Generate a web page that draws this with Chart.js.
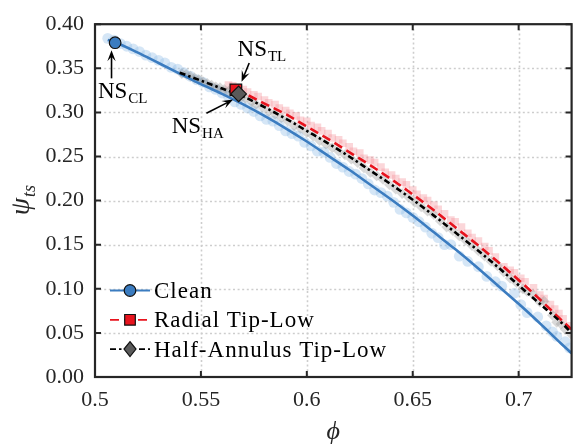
<!DOCTYPE html>
<html>
<head>
<meta charset="utf-8">
<script src="https://cdn.jsdelivr.net/npm/chart.js@4.4.1/dist/chart.umd.min.js"></script>
<style>
  html, body { margin: 0; padding: 0; background: #ffffff; }
  #wrap { width: 581px; height: 446px; }
</style>
</head>
<body>
<div id="wrap"><canvas id="c" width="581" height="446"></canvas></div>
<script>
// ---- data ----
const xTicks = [0.5, 0.55, 0.6, 0.65, 0.7];
const xTickLabels = ['0.5', '0.55', '0.6', '0.65', '0.7'];
const yTicks = [0, 0.05, 0.1, 0.15, 0.2, 0.25, 0.3, 0.35, 0.4];
const yTickLabels = ['0.00', '0.05', '0.10', '0.15', '0.20', '0.25', '0.30', '0.35', '0.40'];

const seriesNames = ['Clean', 'Radial Tip-Low', 'Half-Annulus Tip-Low'];

// fitted characteristics
const cleanPhi = [0.506, 0.51, 0.52, 0.53, 0.54, 0.55, 0.56, 0.57, 0.58, 0.59, 0.60, 0.61, 0.62, 0.63, 0.64, 0.65, 0.66, 0.67, 0.68, 0.69, 0.70, 0.71, 0.72, 0.725];
const cleanPsi = [0.382, 0.379, 0.368, 0.356, 0.344, 0.332, 0.321, 0.309, 0.296, 0.282, 0.267, 0.251, 0.235, 0.218, 0.201, 0.183, 0.164, 0.145, 0.125, 0.104, 0.083, 0.061, 0.038, 0.027];

const radialPhi = [0.5665, 0.57, 0.58, 0.59, 0.60, 0.61, 0.62, 0.63, 0.64, 0.65, 0.66, 0.67, 0.68, 0.69, 0.70, 0.71, 0.72, 0.725];
const radialPsi = [0.3255, 0.322, 0.310, 0.298, 0.284, 0.270, 0.255, 0.240, 0.224, 0.207, 0.189, 0.170, 0.151, 0.131, 0.110, 0.088, 0.065, 0.054];

const halfPhi = [0.54, 0.55, 0.56, 0.57, 0.58, 0.59, 0.60, 0.61, 0.62, 0.63, 0.64, 0.65, 0.66, 0.67, 0.68, 0.69, 0.70, 0.71, 0.72, 0.725];
const halfPsi = [0.345, 0.336, 0.327, 0.318, 0.306, 0.293, 0.279, 0.265, 0.250, 0.234, 0.218, 0.201, 0.183, 0.164, 0.145, 0.125, 0.104, 0.083, 0.062, 0.050];

// raw measurement samples
const cleanRawPhi = [0.506, 0.509, 0.512, 0.515, 0.518, 0.521, 0.524, 0.527, 0.530, 0.533, 0.536, 0.539, 0.542, 0.545, 0.548, 0.551, 0.554, 0.557, 0.560, 0.563, 0.566, 0.569, 0.572, 0.575, 0.578, 0.581, 0.584, 0.587, 0.590, 0.593, 0.596, 0.599, 0.602, 0.605, 0.608, 0.611, 0.614, 0.617, 0.620, 0.623, 0.626, 0.629, 0.632, 0.635, 0.638, 0.641, 0.644, 0.647, 0.650, 0.653, 0.656, 0.659, 0.662, 0.665, 0.668, 0.672, 0.676, 0.681, 0.685, 0.689, 0.692, 0.698, 0.701, 0.704, 0.709, 0.713, 0.716, 0.718, 0.722, 0.724];
const cleanRawPsi = [0.384, 0.382, 0.378, 0.375, 0.372, 0.369, 0.365, 0.362, 0.359, 0.356, 0.351, 0.349, 0.345, 0.341, 0.337, 0.334, 0.329, 0.326, 0.322, 0.318, 0.312, 0.309, 0.305, 0.301, 0.296, 0.292, 0.290, 0.285, 0.279, 0.276, 0.273, 0.266, 0.262, 0.256, 0.255, 0.249, 0.242, 0.238, 0.233, 0.230, 0.225, 0.219, 0.212, 0.209, 0.205, 0.198, 0.190, 0.186, 0.181, 0.176, 0.170, 0.163, 0.158, 0.150, 0.150, 0.137, 0.131, 0.125, 0.114, 0.108, 0.103, 0.095, 0.082, 0.073, 0.068, 0.058, 0.051, 0.046, 0.040, 0.033];

const radialRawPhi = [0.563, 0.565, 0.568, 0.570, 0.572, 0.575, 0.577, 0.580, 0.582, 0.585, 0.587, 0.590, 0.592, 0.595, 0.597, 0.600, 0.602, 0.605, 0.607, 0.610, 0.612, 0.615, 0.617, 0.620, 0.622, 0.625, 0.627, 0.630, 0.632, 0.635, 0.637, 0.640, 0.642, 0.645, 0.647, 0.650, 0.652, 0.655, 0.657, 0.660, 0.662, 0.665, 0.668, 0.670, 0.673, 0.676, 0.678, 0.681, 0.684, 0.686, 0.689, 0.693, 0.696, 0.698, 0.701, 0.703, 0.707, 0.710, 0.712, 0.715, 0.717, 0.719, 0.721, 0.724];
const radialRawPsi = [0.331, 0.330, 0.327, 0.326, 0.323, 0.320, 0.318, 0.314, 0.311, 0.309, 0.305, 0.302, 0.299, 0.296, 0.291, 0.290, 0.285, 0.283, 0.279, 0.276, 0.271, 0.269, 0.265, 0.261, 0.256, 0.254, 0.248, 0.246, 0.243, 0.238, 0.232, 0.229, 0.225, 0.221, 0.218, 0.212, 0.207, 0.203, 0.200, 0.195, 0.190, 0.185, 0.178, 0.176, 0.170, 0.163, 0.158, 0.154, 0.148, 0.143, 0.136, 0.125, 0.121, 0.118, 0.112, 0.108, 0.101, 0.093, 0.089, 0.082, 0.077, 0.072, 0.066, 0.058];

const halfRawPhi = [0.541, 0.543, 0.545, 0.547, 0.549, 0.551, 0.553, 0.555, 0.557, 0.559, 0.561, 0.563, 0.566, 0.569, 0.571, 0.574, 0.576, 0.579, 0.582, 0.585, 0.588, 0.591, 0.594, 0.597, 0.600, 0.603, 0.606, 0.609, 0.612, 0.615, 0.618, 0.621, 0.624, 0.627, 0.630, 0.633, 0.636, 0.639, 0.642, 0.645, 0.648, 0.651, 0.654, 0.657, 0.660, 0.663, 0.666, 0.669, 0.672, 0.675, 0.678, 0.681, 0.684, 0.687, 0.690, 0.693, 0.696, 0.699, 0.702, 0.704, 0.707, 0.710, 0.712, 0.716, 0.718, 0.720, 0.722, 0.725];
const halfRawPsi = [0.344, 0.343, 0.341, 0.339, 0.337, 0.335, 0.333, 0.331, 0.329, 0.328, 0.326, 0.324, 0.321, 0.317, 0.316, 0.312, 0.309, 0.306, 0.301, 0.298, 0.294, 0.290, 0.285, 0.282, 0.277, 0.273, 0.268, 0.264, 0.260, 0.256, 0.252, 0.247, 0.243, 0.237, 0.232, 0.228, 0.224, 0.218, 0.213, 0.208, 0.204, 0.198, 0.193, 0.188, 0.184, 0.177, 0.170, 0.166, 0.160, 0.155, 0.149, 0.143, 0.137, 0.131, 0.126, 0.119, 0.112, 0.107, 0.100, 0.097, 0.093, 0.085, 0.086, 0.070, 0.062, 0.060, 0.054, 0.048];

// design points: NS_CL, NS_TL, NS_HA
const designPhi = [0.5095, 0.5665, 0.5678];
const designPsi = [0.379, 0.3255, 0.321];

// ---- styling ----
const SERIF = '"Liberation Serif", "DejaVu Serif", serif';
const INK = '#262626';
const BLUE = '#3b7cc0';
const RED = '#e8141e';
const BLACK = '#000000';
const DASH_RED = [9, 5];
const DASH_BLACK = [6, 3, 2.5, 3];

const pts = (xs, ys) => xs.map((v, i) => ({ x: v, y: ys[i] }));

const lineDs = (label, xs, ys, color, dash, width, order) => ({
  type: 'line', label, data: pts(xs, ys),
  borderColor: color, borderWidth: width, borderDash: dash,
  pointRadius: 0, cubicInterpolationMode: 'monotone', fill: false, order
});
const rawDs = (xs, ys, color, style, order) => ({
  type: 'scatter', data: pts(xs, ys), showLine: false,
  pointStyle: style, pointRadius: 5.4, pointBorderWidth: 0,
  backgroundColor: color, borderColor: 'rgba(0,0,0,0)', order
});
const markDs = (i, style, radius, fillColor, order) => ({
  type: 'scatter', data: [{ x: designPhi[i], y: designPsi[i] }], showLine: false,
  pointStyle: style, pointRadius: radius, pointBorderWidth: 1.2,
  backgroundColor: fillColor, borderColor: '#111111', order
});

// ---- drawing helpers ----
function marker(ctx, style, x, y, r, fillColor) {
  ctx.save();
  ctx.setLineDash([]);
  ctx.fillStyle = fillColor; ctx.strokeStyle = '#111111'; ctx.lineWidth = 1.2;
  ctx.beginPath();
  if (style === 'circle') ctx.arc(x, y, r, 0, Math.PI * 2);
  else if (style === 'rect') { const s = r * Math.SQRT1_2; ctx.rect(x - s, y - s, 2 * s, 2 * s); }
  else { ctx.moveTo(x, y - r); ctx.lineTo(x + r * 0.8, y); ctx.lineTo(x, y + r); ctx.lineTo(x - r * 0.8, y); ctx.closePath(); }
  ctx.fill(); ctx.stroke();
  ctx.restore();
}

function subText(ctx, main, sub, x, y, size, subSize, italic) {
  const st = italic ? 'italic ' : '';
  ctx.font = st + size + 'px ' + SERIF;
  ctx.fillText(main, x, y);
  const w = ctx.measureText(main).width;
  ctx.font = st + subSize + 'px ' + SERIF;
  ctx.fillText(sub, x + w + 1, y + subSize * 0.33);
}

function arrow(ctx, x1, y1, x2, y2) {
  const ang = Math.atan2(y2 - y1, x2 - x1);
  const L = 11, W = 4.2;
  ctx.save();
  ctx.strokeStyle = '#000'; ctx.fillStyle = '#000'; ctx.lineWidth = 1.6;
  ctx.beginPath(); ctx.moveTo(x1, y1);
  ctx.lineTo(x2 - Math.cos(ang) * 6, y2 - Math.sin(ang) * 6); ctx.stroke();
  ctx.translate(x2, y2); ctx.rotate(ang);
  ctx.beginPath(); ctx.moveTo(0, 0); ctx.lineTo(-L, -W); ctx.lineTo(-L * 0.6, 0); ctx.lineTo(-L, W); ctx.closePath();
  ctx.fill();
  ctx.restore();
}

// annotation anchors in data units: text position, arrow tail, arrow head
const notes = [
  { main: 'NS', sub: 'CL', tx: 0.5014, ty: 0.3167, ax: 0.5078, ay: 0.3386, bx: 0.5078, by: 0.3705 },
  { main: 'NS', sub: 'TL', tx: 0.5673, ty: 0.3640, ax: 0.5728, ay: 0.3560, bx: 0.5692, by: 0.3347 },
  { main: 'NS', sub: 'HA', tx: 0.5362, ty: 0.2770, ax: 0.5526, ay: 0.2990, bx: 0.5652, by: 0.3145 }
];

const decor = {
  id: 'decor',
  beforeDatasetsDraw(chart) {
    const { ctx, chartArea: a, scales: { x, y } } = chart;
    ctx.save();
    ctx.strokeStyle = '#cdcdcd'; ctx.lineWidth = 1.6; ctx.setLineDash([2, 2.6]);
    xTicks.forEach(v => {
      const px = Math.round(x.getPixelForValue(v)) + 0.5;
      if (px - a.left < 3 || a.right - px < 3) return;
      ctx.beginPath(); ctx.moveTo(px, a.top); ctx.lineTo(px, a.bottom); ctx.stroke();
    });
    yTicks.forEach(v => {
      const py = Math.round(y.getPixelForValue(v)) + 0.5;
      if (py - a.top < 3 || a.bottom - py < 3) return;
      ctx.beginPath(); ctx.moveTo(a.left, py); ctx.lineTo(a.right, py); ctx.stroke();
    });
    ctx.restore();
  },
  afterDraw(chart) {
    const { ctx, chartArea: a, scales: { x, y } } = chart;
    ctx.save();
    // frame and inward ticks
    ctx.setLineDash([]);
    ctx.strokeStyle = INK; ctx.lineWidth = 2.2;
    ctx.strokeRect(a.left, a.top, a.right - a.left, a.bottom - a.top);
    ctx.lineWidth = 2;
    const TL = 6;
    xTicks.forEach(v => {
      const px = x.getPixelForValue(v);
      ctx.beginPath(); ctx.moveTo(px, a.bottom); ctx.lineTo(px, a.bottom - TL);
      ctx.moveTo(px, a.top); ctx.lineTo(px, a.top + TL); ctx.stroke();
    });
    yTicks.forEach(v => {
      const py = y.getPixelForValue(v);
      ctx.beginPath(); ctx.moveTo(a.left, py); ctx.lineTo(a.left + TL, py);
      ctx.moveTo(a.right, py); ctx.lineTo(a.right - TL, py); ctx.stroke();
    });

    // annotations
    ctx.fillStyle = '#000'; ctx.textAlign = 'left'; ctx.textBaseline = 'alphabetic';
    notes.forEach(n => {
      subText(ctx, n.main, n.sub, x.getPixelForValue(n.tx), y.getPixelForValue(n.ty), 23, 15, false);
      arrow(ctx, x.getPixelForValue(n.ax), y.getPixelForValue(n.ay), x.getPixelForValue(n.bx), y.getPixelForValue(n.by));
    });

    // legend
    const rows = [
      { dash: [], color: BLUE, style: 'circle', r: 5.8, fill: BLUE },
      { dash: DASH_RED, color: RED, style: 'rect', r: 7.5, fill: RED },
      { dash: DASH_BLACK, color: BLACK, style: 'diamond', r: 7.5, fill: '#5a5a5a' }
    ];
    const lx0 = a.left + 15, lx1 = a.left + 55, tx = a.left + 59;
    rows.forEach((row, i) => {
      const ry = a.bottom - 86.5 + i * 29.3;
      ctx.save();
      ctx.strokeStyle = row.color; ctx.lineWidth = 1.8; ctx.setLineDash(row.dash);
      ctx.beginPath(); ctx.moveTo(lx0, ry); ctx.lineTo(lx1, ry); ctx.stroke();
      ctx.restore();
      marker(ctx, row.style, (lx0 + lx1) / 2, ry, row.r, row.fill);
      ctx.save();
      ctx.fillStyle = '#000';
      ctx.font = '23px ' + SERIF;
      ctx.letterSpacing = '1px';
      ctx.fillText(seriesNames[i], tx, ry + 7.5);
      ctx.restore();
    });

    // axis titles
    ctx.fillStyle = INK;
    ctx.font = 'italic 26px ' + SERIF;
    ctx.textAlign = 'center'; ctx.textBaseline = 'middle';
    ctx.fillText('\u03D5', (a.left + a.right) / 2, a.bottom + 55);

    ctx.save();
    ctx.translate(a.left - 66, (a.top + a.bottom) / 2);
    ctx.rotate(-Math.PI / 2);
    ctx.textAlign = 'left'; ctx.textBaseline = 'alphabetic';
    ctx.font = 'italic 28px ' + SERIF;
    const w1 = ctx.measureText('\u03C8').width;
    ctx.font = 'italic 18px ' + SERIF;
    const w2 = ctx.measureText('ts').width;
    subText(ctx, '\u03C8', 'ts', -(w1 + w2) / 2, 0, 28, 18, true);
    ctx.restore();
    ctx.restore();
  }
};

new Chart(document.getElementById('c'), {
  data: {
    datasets: [
      markDs(2, 'rectRot', 7.8, '#5a5a5a', 0),
      markDs(1, 'rect', 8.2, RED, 1),
      markDs(0, 'circle', 5.8, BLUE, 1),
      lineDs(seriesNames[2], halfPhi, halfPsi, BLACK, DASH_BLACK, 2.6, 3),
      lineDs(seriesNames[1], radialPhi, radialPsi, RED, DASH_RED, 2.6, 4),
      lineDs(seriesNames[0], cleanPhi, cleanPsi, BLUE, [], 2.6, 5),
      rawDs(halfRawPhi, halfRawPsi, 'rgba(140,140,140,0.33)', 'rectRot', 8),
      rawDs(radialRawPhi, radialRawPsi, 'rgba(245,140,150,0.36)', 'rect', 9),
      rawDs(cleanRawPhi, cleanRawPsi, 'rgba(150,192,232,0.4)', 'circle', 10)
    ]
  },
  options: {
    responsive: false,
    animation: false,
    devicePixelRatio: 1,
    layout: { padding: { left: 0, top: 13, right: 7, bottom: 0 } },
    plugins: { legend: { display: false }, tooltip: { enabled: false } },
    scales: {
      x: {
        type: 'linear', min: 0.5, max: 0.725,
        afterBuildTicks: s => { s.ticks = xTicks.map(v => ({ value: v })); },
        afterFit: s => { s.height = 69; },
        grid: { display: false, drawTicks: false },
        border: { display: false },
        ticks: {
          callback: (v, i) => xTickLabels[i],
          color: INK, padding: 10, maxRotation: 0,
          font: { family: SERIF, size: 22 }
        }
      },
      y: {
        type: 'linear', min: 0, max: 0.4,
        afterBuildTicks: s => { s.ticks = yTicks.map(v => ({ value: v })); },
        afterFit: s => { s.width = 95; },
        grid: { display: false, drawTicks: false },
        border: { display: false },
        ticks: {
          callback: (v, i) => yTickLabels[i],
          color: INK, padding: 11,
          font: { family: SERIF, size: 22 }
        }
      }
    }
  },
  plugins: [decor]
});
</script>
</body>
</html>
